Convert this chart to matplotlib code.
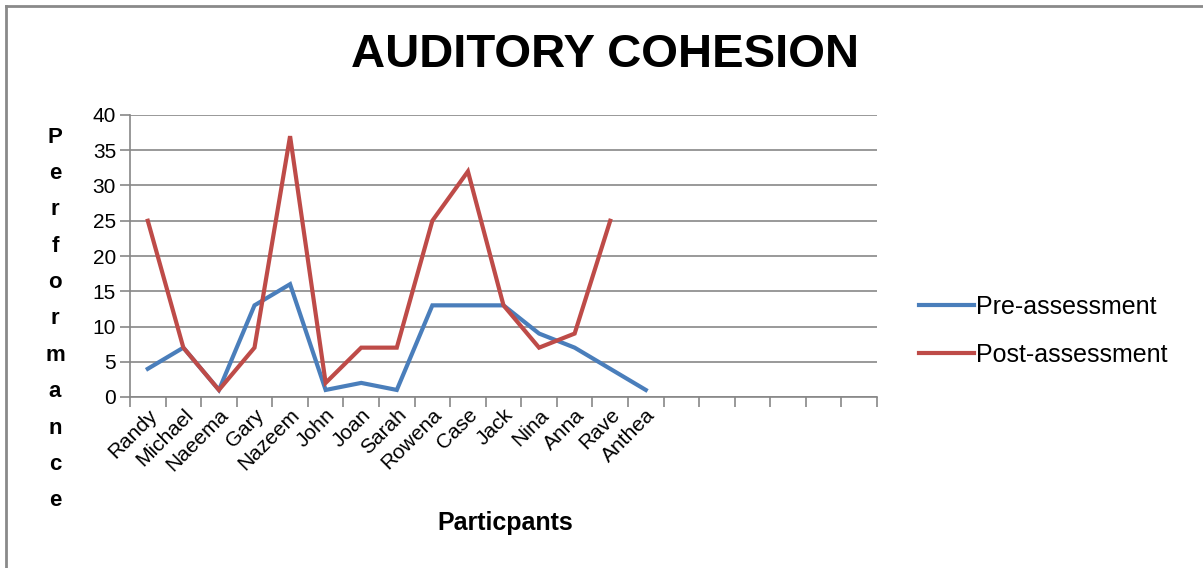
import matplotlib
matplotlib.use("Agg")
import matplotlib.pyplot as plt
from matplotlib.lines import Line2D
import numpy as np

participants = ["Randy", "Michael", "Naeema", "Gary", "Nazeem", "John", "Joan",
                "Sarah", "Rowena", "Case", "Jack", "Nina", "Anna", "Rave", "Anthea"]
pre_assessment = [4, 7, 1, 13, 16, 1, 2, 1, 13, 13, 13, 9, 7, 4, 1]
post_assessment = [25, 7, 1, 7, 37, 2, 7, 7, 25, 32, 13, 7, 9, 25]
n_slots = 21  # category axis has empty slots after Anthea
y_ticks = [0, 5, 10, 15, 20, 25, 30, 35, 40]

W, H = 1203, 568
fig = plt.figure(figsize=(W / 100, H / 100), dpi=100)
ax = fig.add_axes([130 / W, 1 - 397 / H, (877 - 130) / W, (397 - 115) / H])

blue = "#4A7EBB"
red = "#BE4B48"
grid_c = "#878787"

ax.plot(range(len(pre_assessment)), pre_assessment, color=blue, lw=3,
        solid_joinstyle="miter", label="Pre-assessment", zorder=3)
ax.plot(range(len(post_assessment)), post_assessment, color=red, lw=3,
        solid_joinstyle="miter", label="Post-assessment", zorder=4)

ax.set_xlim(-0.5, n_slots - 0.5)
ax.set_ylim(0, 40)
ax.set_yticks(y_ticks)
ax.yaxis.grid(True, color=grid_c, lw=1.2)
ax.set_axisbelow(True)

ax.set_xticks(np.arange(len(participants)))
ax.set_xticklabels(participants, rotation=45, ha="right", va="top",
                   rotation_mode="anchor", fontsize=15, family="Liberation Sans")
ax.set_xticks(np.arange(n_slots + 1) - 0.5, minor=True)
ax.tick_params(axis="x", which="major", length=0, pad=6)
ax.tick_params(axis="x", which="minor", length=7, color=grid_c, width=1.2)
ax.tick_params(axis="y", length=7, color=grid_c, width=1.2, labelsize=15, pad=3)
for lab in ax.get_yticklabels():
    lab.set_family("Liberation Sans")

for s in ["top", "right"]:
    ax.spines[s].set_visible(False)
ax.spines["left"].set_color(grid_c)
ax.spines["bottom"].set_color(grid_c)
ax.spines["left"].set_linewidth(1.2)
ax.spines["bottom"].set_linewidth(1.2)

fig.text(605 / W, 1 - 55 / H, "AUDITORY COHESION", ha="center", va="center",
         fontsize=34, fontweight="bold", family="Liberation Sans")
fig.text(55 / W, 1 - 319 / H, "\n".join("Performance"), ha="center", va="center",
         fontsize=16, fontweight="bold", family="Liberation Sans", linespacing=1.96)
fig.text(505 / W, 1 - 523 / H, "Particpants", ha="center", va="center",
         fontsize=18, fontweight="bold", family="Liberation Sans")

handles = [Line2D([], [], color=blue, lw=3), Line2D([], [], color=red, lw=3)]
fig.legend(handles, ["Pre-assessment", "Post-assessment"], loc="center left",
           bbox_to_anchor=(896 / W, 1 - 331 / H), frameon=False,
           prop={"family": "Liberation Sans", "size": 18},
           handlelength=2.2, handletextpad=0.1, labelspacing=0.95)

# outer chart border (left and top edges visible)
fig.add_artist(Line2D([6 / W, 6 / W], [0, 1 - 6 / H], color="#8a8a8a", lw=2,
                      transform=fig.transFigure))
fig.add_artist(Line2D([6 / W, 1], [1 - 6 / H, 1 - 6 / H], color="#8a8a8a", lw=2,
                      transform=fig.transFigure))

fig.savefig("out.png", dpi=100)
